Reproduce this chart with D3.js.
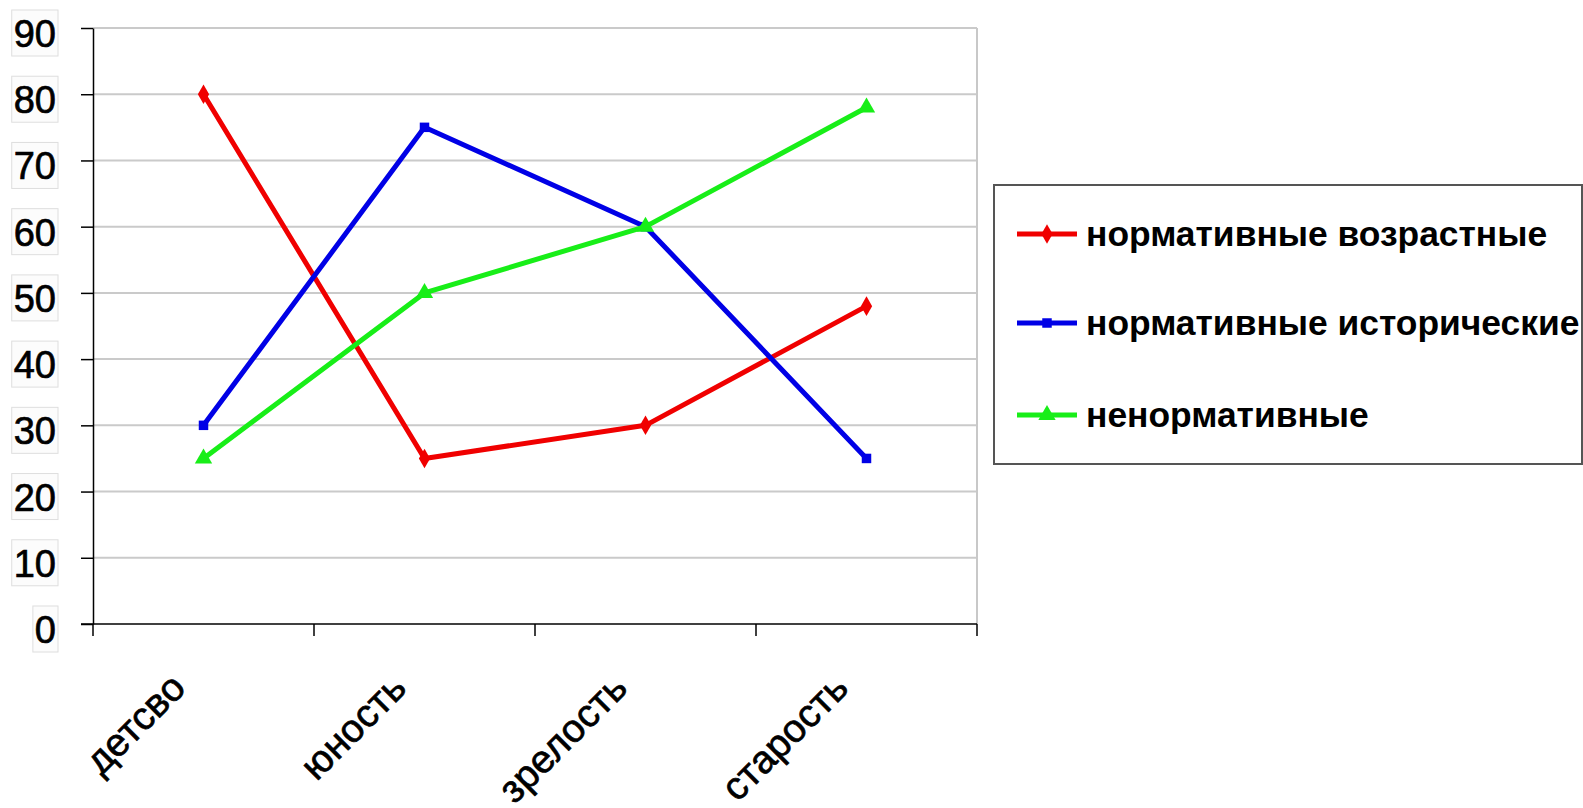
<!DOCTYPE html>
<html><head><meta charset="utf-8">
<script src="https://cdn.jsdelivr.net/npm/d3@7"></script>
<style>html,body{margin:0;padding:0;background:#fff;overflow:hidden}</style>
</head><body>
<svg id="chart" width="1583" height="808"></svg>
<script>
const categories = ["детсво", "юность", "зрелость", "старость"];
const seriesNames = ["нормативные возрастные", "нормативные исторические", "ненормативные"];
const ageNormative = [80, 25, 30, 48];
const historyNormative = [30, 75, 60, 25];
const nonNormative = [25, 50, 60, 78];
const yTicks = [0, 10, 20, 30, 40, 50, 60, 70, 80, 90];

(function () {
const seriesColors = ["#f00000", "#0000e6", "#18ee18"];
const seriesShapes = [d3.symbolDiamond, d3.symbolSquare, d3.symbolTriangle];
const seriesSizes = [110, 90, 130];
const series = [ageNormative, historyNormative, nonNormative].map((v, i) => ({
  name: seriesNames[i], values: v, color: seriesColors[i], shape: seriesShapes[i], size: seriesSizes[i]
}));

const svg = d3.select("#chart");
const pL = 93, pR = 977, pT = 28, pB = 624;
const x = d3.scaleBand().domain(categories).range([pL, pR]).padding(0);
const y = d3.scaleLinear().domain([0, 90]).range([pB, pT]);
const cx = c => x(c) + x.bandwidth() / 2;

// gridlines
svg.append("g").selectAll("line").data(yTicks.filter(t => t > 0)).join("line")
  .attr("x1", pL).attr("x2", pR).attr("y1", d => y(d)).attr("y2", d => y(d))
  .attr("stroke", "#cacaca").attr("stroke-width", 2);
svg.append("line").attr("x1", pR).attr("x2", pR).attr("y1", pT).attr("y2", pB)
  .attr("stroke", "#c8c8c8").attr("stroke-width", 2);

// y axis
const yAxis = svg.append("g").attr("transform", `translate(${pL},0)`)
  .call(d3.axisLeft(y).tickValues(yTicks).tickSize(12).tickSizeOuter(0).tickFormat(""));
yAxis.select(".domain").attr("stroke", "#000").attr("stroke-width", 1.5);
yAxis.selectAll(".tick line").attr("stroke", "#000").attr("stroke-width", 1.5);

// y labels with faint boxes
const yl = svg.append("g");
yTicks.forEach(t => {
  const g = yl.append("g");
  const txt = g.append("text").attr("x", 56).attr("y", y(t) + 19)
    .attr("text-anchor", "end").attr("font-family", "Liberation Sans, Arial, sans-serif")
    .attr("font-size", 38).attr("fill", "#000").attr("stroke", "#000").attr("stroke-width", 0.7).text(t);
  const bb = txt.node().getBBox();
  g.insert("rect", "text").attr("x", bb.x - 2).attr("y", y(t) - 18).attr("width", bb.width + 4)
    .attr("height", 46).attr("fill", "#fcfcfc").attr("stroke", "#dedede").attr("stroke-width", 1);
});

// x axis
const xAxisG = svg.append("g");
xAxisG.append("line").attr("x1", pL - 12).attr("x2", pR).attr("y1", pB).attr("y2", pB)
  .attr("stroke", "#000").attr("stroke-width", 1.5);
const boundaries = categories.map(c => x(c)).concat([x(categories[categories.length - 1]) + x.bandwidth()]);
xAxisG.selectAll("line.tk").data(boundaries).join("line").attr("class", "tk")
  .attr("x1", d => d).attr("x2", d => d).attr("y1", pB).attr("y2", pB + 12)
  .attr("stroke", "#000").attr("stroke-width", 1.5);
xAxisG.selectAll("text").data(categories).join("text")
  .attr("transform", d => `translate(${cx(d) - 16},${690}) rotate(-45)`)
  .attr("text-anchor", "end").attr("font-family", "Liberation Sans, Arial, sans-serif")
  .attr("font-size", 39).attr("fill", "#000").attr("stroke", "#000").attr("stroke-width", 0.7).text(d => d);

// lines and markers
const line = d3.line().x((d, i) => cx(categories[i])).y(d => y(d));
series.forEach(s => {
  svg.append("path").datum(s.values).attr("d", line).attr("fill", "none")
    .attr("stroke", s.color).attr("stroke-width", 5).attr("stroke-linejoin", "round");
  svg.append("g").selectAll("path").data(s.values).join("path")
    .attr("d", d3.symbol().type(s.shape).size(s.size))
    .attr("transform", (d, i) => `translate(${cx(categories[i])},${y(d)})`)
    .attr("fill", s.color);
});

// legend
const lg = svg.append("g");
lg.append("rect").attr("x", 994).attr("y", 185).attr("width", 588).attr("height", 279)
  .attr("fill", "#fff").attr("stroke", "#555").attr("stroke-width", 2);
const rowY = [234, 323, 415];
series.forEach((s, i) => {
  const yy = rowY[i];
  lg.append("line").attr("x1", 1017).attr("x2", 1077).attr("y1", yy).attr("y2", yy)
    .attr("stroke", s.color).attr("stroke-width", 5);
  lg.append("path").attr("d", d3.symbol().type(s.shape).size(s.size)())
    .attr("transform", `translate(1047,${yy})`).attr("fill", s.color);
  lg.append("text").attr("x", 1086).attr("y", yy + 12)
    .attr("font-family", "Liberation Sans, Arial, sans-serif").attr("font-weight", "bold")
    .attr("font-size", 35.4).attr("fill", "#000").text(s.name);
});
})();
</script>
</body></html>
